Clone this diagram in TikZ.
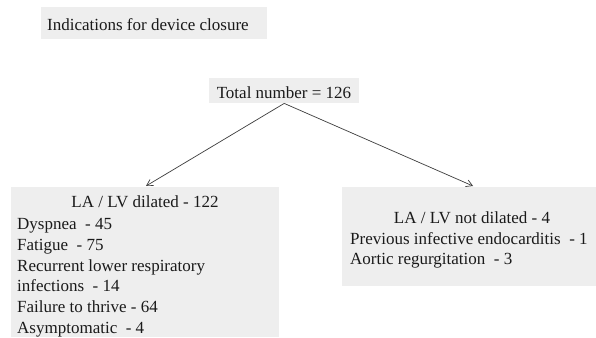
\documentclass[tikz,border=0pt]{standalone}
\usepackage{fontspec}
\setmainfont{Liberation Serif}
\usetikzlibrary{arrows.meta}
\definecolor{boxgray}{HTML}{EEEEEE}
\definecolor{ink}{HTML}{1A1A1A}
\tikzset{
  panel/.style={fill=boxgray, draw=none, inner sep=0pt, anchor=north west},
  txt/.style={inner sep=0pt, anchor=base west, text=ink, font=\fontsize{17}{21}\selectfont},
  ctxt/.style={txt, anchor=base},
  conn/.style={draw=ink!85, line width=0.7pt, -{Straight Barb[length=6pt,width=7pt]}}
}
\begin{document}
\begin{tikzpicture}[x=1pt,y=-1pt]
\useasboundingbox[fill=white] (0,0) rectangle (596,337);
% title
\node[panel, minimum width=226pt, minimum height=32pt] (titlebox) at (41,7) {};
\node[txt] (title) at (47,31) {Indications for device closure};
% total
\node[panel, minimum width=150pt, minimum height=25pt] (totalbox) at (209,78) {};
\node[ctxt] (total) at (284,98.5) {Total number = 126};
% left box
\node[panel, minimum width=268pt, minimum height=150pt] (lbox) at (11,187) {};
\node[ctxt] (lh) at (145,207.5) {LA / LV dilated - 122};
\node[txt] (l1) at (17,229) {Dyspnea\ \ - 45};
\node[txt] (l2) at (17,250) {Fatigue\ \ - 75};
\node[txt] (l3) at (17,271) {Recurrent lower respiratory};
\node[txt] (l4) at (17,291) {infections\ \ - 14};
\node[txt] (l5) at (17,312) {Failure to thrive - 64};
\node[txt] (l6) at (17,333) {Asymptomatic\ \ - 4};
% right box
\node[panel, minimum width=254pt, minimum height=99pt] (rbox) at (342,187) {};
\node[ctxt] (rh) at (472,223) {LA / LV not dilated - 4};
\node[txt] (r1) at (350,244) {Previous infective endocarditis\ \ - 1};
\node[txt] (r2) at (350,264) {Aortic regurgitation\ \ - 3};
% connectors
\coordinate (lend) at (146,186);
\coordinate (rend) at (473,186);
\draw[conn] (totalbox.south) -- (lend);
\draw[conn] (totalbox.south) -- (rend);
\end{tikzpicture}
\end{document}
